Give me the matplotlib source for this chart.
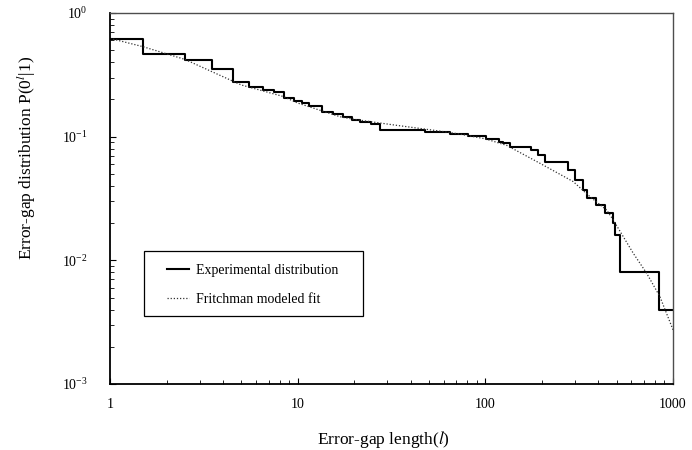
import numpy as np
import matplotlib
matplotlib.use("Agg")
import matplotlib.pyplot as plt
from matplotlib.patches import Rectangle

plt.rcParams['font.family'] = ['Liberation Serif', 'DejaVu Serif']
plt.rcParams['mathtext.fontset'] = 'stix'

# experimental error-gap distribution: bin edges (gap length) and step values
step_edges = [1, 1.5, 2.5, 3.5, 4.5, 5.5, 6.5, 7.5, 8.5, 9.5, 10.5, 11.5, 13.5,
              15.5, 17.5, 19.5, 21.5, 24.5, 27.5, 47.5, 64.5, 81, 101, 118, 124,
              135, 176, 191, 208, 277, 300, 333, 347, 388, 434, 480, 490, 521,
              845, 1000]
step_vals = [0.616, 0.464, 0.417, 0.353, 0.277, 0.251, 0.239, 0.228, 0.206,
             0.194, 0.188, 0.177, 0.157, 0.152, 0.145, 0.136, 0.131, 0.126,
             0.113, 0.109, 0.105, 0.102, 0.0953, 0.0911, 0.0885, 0.0821, 0.078,
             0.0711, 0.062, 0.0538, 0.0447, 0.0371, 0.0318, 0.028, 0.024,
             0.0199, 0.016, 0.0081, 0.00397]

# Fritchman modeled fit
fit_len = [1, 1.5, 2.5, 5, 8.4, 10, 16.8, 20, 33, 57, 73, 100, 130, 195, 294,
           361, 443, 480, 614, 723, 851, 1000]
fit_vals = [0.624, 0.534, 0.422, 0.262, 0.211, 0.187, 0.145, 0.138, 0.124,
            0.111, 0.105, 0.096, 0.085, 0.061, 0.0433, 0.0327, 0.0255, 0.0212,
            0.0114, 0.00787, 0.00509, 0.00274]

x_ticks = [1, 10, 100, 1000]
x_ticklabels = ['1', '10', '100', '1000']

fig = plt.figure(figsize=(6.92, 4.5), dpi=100)
ax = fig.add_axes([0.159, 0.1467, 0.8136, 0.8244])

ax.step(step_edges, step_vals + [step_vals[-1]], where='post',
        color='black', lw=1.5, label='Experimental distribution')
ax.plot(fit_len, fit_vals, color='0.2', lw=0.9, ls=(0, (1, 1.5)),
        label='Fritchman modeled fit')

ax.set_xscale('log')
ax.set_yscale('log')
ax.set_xlim(1, 1000)
ax.set_ylim(1e-3, 1)
ax.set_xticks(x_ticks)
ax.set_xticklabels(x_ticklabels)

ax.tick_params(which='both', direction='in', top=False, right=False,
               labelsize=10)
ax.tick_params(axis='x', which='major', length=4, pad=10)
ax.tick_params(axis='y', which='major', length=4, pad=16)
ax.tick_params(which='minor', length=3)

for s in ['left', 'bottom']:
    ax.spines[s].set_linewidth(1.3)
for s in ['top', 'right']:
    ax.spines[s].set_linewidth(1.0)
    ax.spines[s].set_color('0.3')

ax.set_xlabel(r'Error-gap length($\mathit{l}$)', fontsize=12.5)
ax.set_ylabel(r'Error-gap distribution P(0$^{\mathit{l}}$|1)', fontsize=12.5)
ax.xaxis.set_label_coords(0.486, -0.122)
ax.yaxis.set_label_coords(-0.128, 0.609)

# legend box
ax.add_patch(Rectangle((0.0604, 0.183), 0.3886, 0.175, transform=ax.transAxes,
                       fill=False, edgecolor='black', lw=0.9, zorder=4))
ax.legend(loc='center left', bbox_to_anchor=(0.101, 0.267), frameon=False,
          fontsize=10, handlelength=1.6, handletextpad=0.5, labelspacing=1.2,
          borderpad=0, borderaxespad=0)

fig.savefig('out.png', dpi=100)
